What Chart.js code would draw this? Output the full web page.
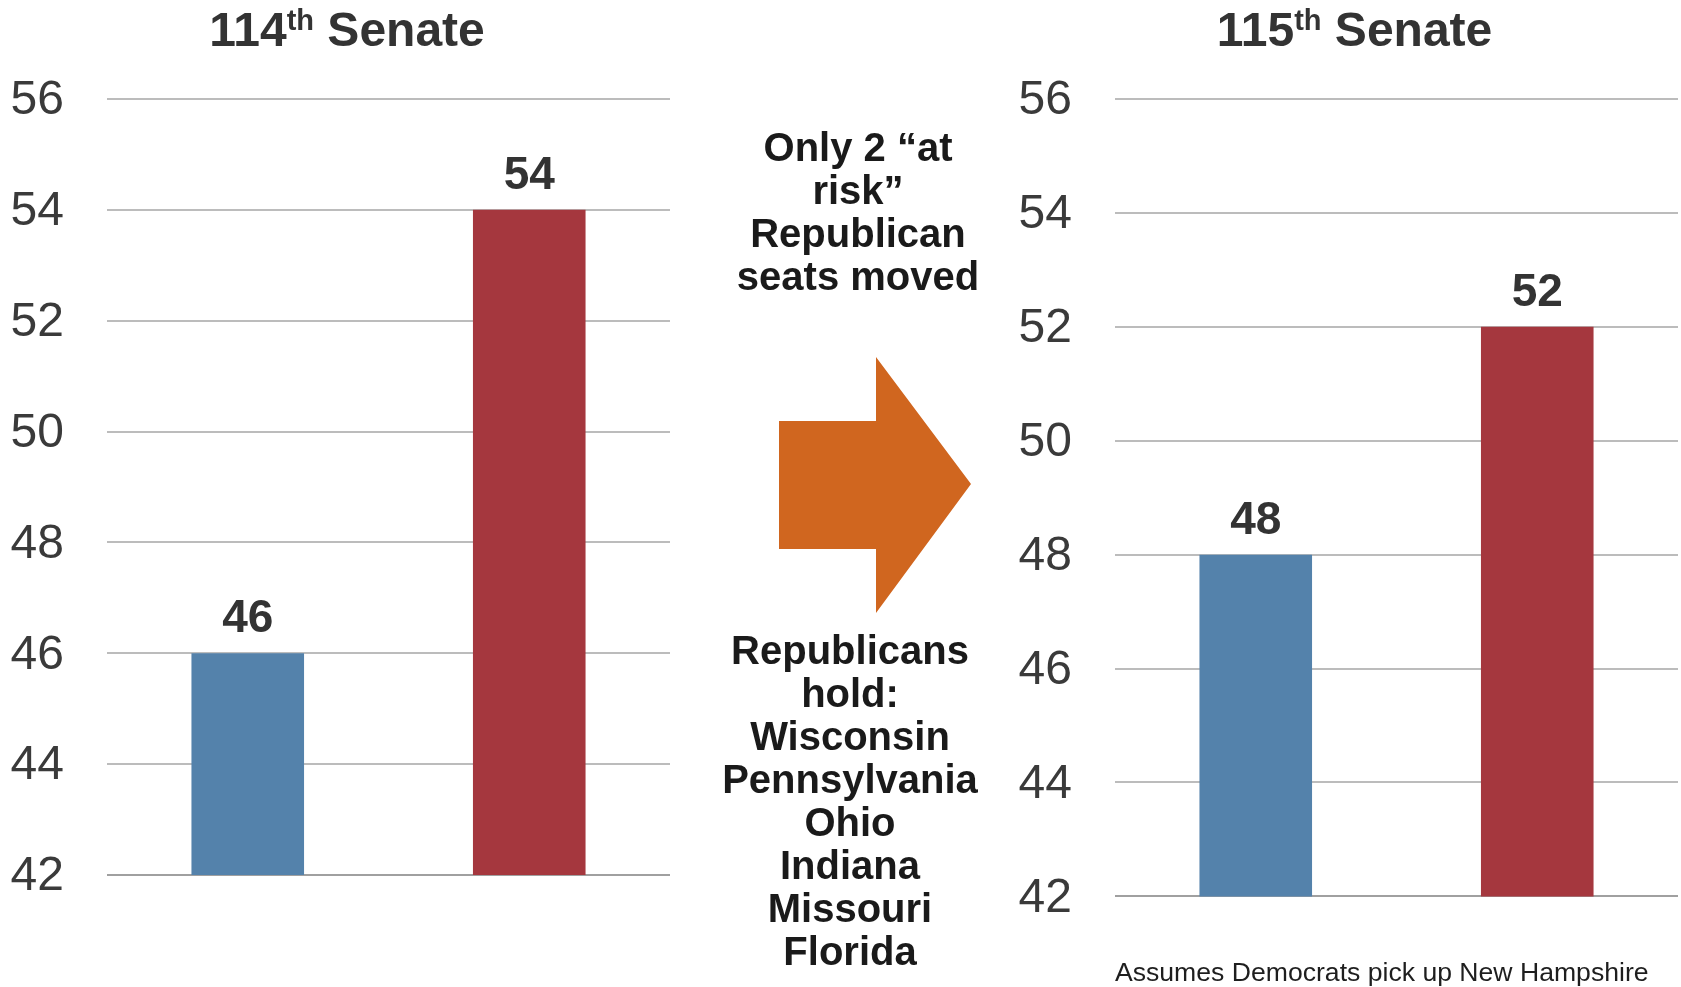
<!DOCTYPE html>
<html>
<head>
<meta charset="utf-8">
<script src="https://cdn.jsdelivr.net/npm/chart.js@4/dist/chart.umd.min.js"></script>
<style>
  html, body { margin: 0; padding: 0; background: #fff; overflow: hidden; }
  body { width: 1681px; height: 987px; position: relative; }
  canvas { position: absolute; top: 0; }
  .mid {
    position: absolute; width: 320px; text-align: center;
    font: bold 40px "Liberation Sans", Arial, sans-serif; line-height: 43px; color: #1a1a1a;
  }
  svg { position: absolute; left: 0; top: 0; }
</style>
</head>
<body>
<canvas id="senate114" style="left:0px" width="694" height="987"></canvas>
<canvas id="senate115" style="left:1007px" width="674" height="987"></canvas>

<div class="mid" style="left:698px; top:126px;">Only 2 “at<br>risk”<br>Republican<br>seats moved</div>
<svg width="1681" height="987"><polygon points="779,421 876,421 876,357 971,484 876,613 876,549 779,549" fill="#D0661F"/></svg>
<div class="mid" style="left:690px; top:629px;">Republicans<br>hold:<br>Wisconsin<br>Pennsylvania<br>Ohio<br>Indiana<br>Missouri<br>Florida</div>

<script>
const parties = ["Democrats", "Republicans"];
const seats114 = [46, 54];
const seats115 = [48, 52];
const tickValues = [42, 44, 46, 48, 50, 52, 54, 56];
const barColors = ["#5482AB", "#A5373E"];

const family = "'Liberation Sans', Arial, sans-serif";

// title with a superscript ordinal, e.g. 114th
const supTitle = {
    id: "supTitle",
    afterDraw(chart, args, opts) {
        const ctx = chart.ctx;
        ctx.save();
        ctx.fillStyle = "#333";
        ctx.textBaseline = "alphabetic";
        ctx.textAlign = "left";
        const big = "bold 48px " + family;
        const small = "bold 29px " + family;
        ctx.font = big;
        const w1 = ctx.measureText(opts.num).width;
        const w3 = ctx.measureText(" Senate").width;
        ctx.font = small;
        const w2 = ctx.measureText(opts.sup).width;
        let x = opts.cx - (w1 + w2 + w3) / 2;
        ctx.font = big;
        ctx.fillText(opts.num, x, 46);
        x += w1;
        ctx.font = small;
        ctx.fillText(opts.sup, x, 30);
        x += w2;
        ctx.font = big;
        ctx.fillText(" Senate", x, 46);
        ctx.restore();
    }
};

// numbers above the bars
const barValues = {
    id: "barValues",
    afterDatasetsDraw(chart) {
        const ctx = chart.ctx;
        const meta = chart.getDatasetMeta(0);
        ctx.save();
        ctx.fillStyle = "#333";
        ctx.font = "bold 46px " + family;
        ctx.textAlign = "center";
        ctx.textBaseline = "alphabetic";
        meta.data.forEach((bar, i) => {
            ctx.fillText(chart.data.datasets[0].data[i], bar.x, bar.y - 21);
        });
        ctx.restore();
    }
};

function makeChart(id, values, axisWidth, padding, titleX, footnote) {
    return new Chart(document.getElementById(id), {
        type: "bar",
        data: {
            labels: parties,
            datasets: [{
                data: values,
                backgroundColor: barColors,
                barPercentage: 0.4,
                categoryPercentage: 1.0,
            }]
        },
        options: {
            responsive: false,
            animation: false,
            layout: {padding: padding},
            plugins: {
                legend: {display: false},
                tooltip: {enabled: false},
                supTitle: titleX,
            },
            scales: {
                x: footnote ? {
                    grid: {display: false, drawTicks: false},
                    border: {display: false},
                    ticks: {display: false},
                    title: {
                        display: true,
                        text: footnote,
                        align: "start",
                        color: "#1e1e1e",
                        font: {family: family, size: 26.6, lineHeight: 1},
                        padding: {top: 64, bottom: 0},
                    },
                } : {display: false},
                y: {
                    min: 42,
                    max: 56,
                    afterBuildTicks: (scale) => {
                        scale.ticks = tickValues.map((v) => ({value: v}));
                    },
                    afterFit: (scale) => {
                        scale.width = axisWidth;
                    },
                    border: {display: false},
                    grid: {
                        drawTicks: false,
                        lineWidth: 2,
                        color: (c) => c.tick && c.tick.value === 42 ? "#a0a0a0" : "#bcbcbc",
                    },
                    ticks: {
                        padding: 43,
                        labelOffset: 2,
                        color: "#3a3a3a",
                        font: {family: family, size: 48},
                    },
                },
            },
        },
        plugins: [supTitle, barValues],
    });
}

makeChart("senate114", seats114, 107, {top: 99, bottom: 112, left: 0, right: 24},
    {num: "114", sup: "th", cx: 347}, null);
makeChart("senate115", seats115, 108, {top: 99, bottom: 0, left: 0, right: 3},
    {num: "115", sup: "th", cx: 347.5}, "Assumes Democrats pick up New Hampshire");
</script>
</body>
</html>
